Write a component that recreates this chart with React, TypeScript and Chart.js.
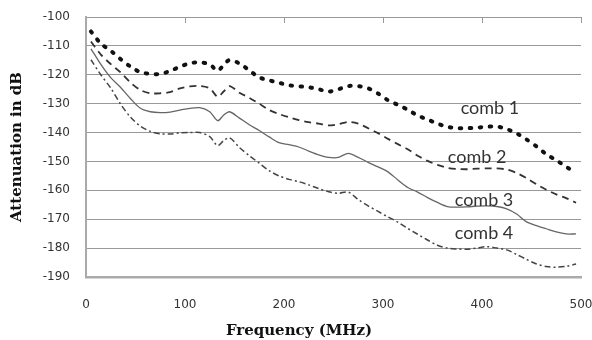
import React, { useEffect, useRef } from "react";
import { Chart, registerables } from "chart.js";

Chart.register(...registerables);

const freqs = [5, 15, 25, 35, 45, 55, 65, 75, 85, 95, 105, 115, 125, 133, 139, 145, 155, 165, 175, 185, 195, 205, 215, 225, 235, 245, 255, 265, 275, 285, 295, 305, 315, 325, 335, 345, 355, 365, 375, 385, 395, 405, 415, 425, 435, 445, 455, 465, 475, 485, 495];

const comb1 = [-105, -109.2, -111.7, -114.6, -117.2, -119.1, -119.7, -119.7, -118.7, -117.2, -116, -115.7, -116.4, -118.6, -116.6, -114.9, -116.1, -118.5, -120.9, -121.9, -122.8, -123.6, -124.0, -124.3, -125, -125.8, -125, -123.9, -123.9, -124.7, -126.5, -128.8, -130.4, -132.1, -134.1, -135.5, -136.9, -138, -138.5, -138.5, -138.3, -138, -137.9, -138.8, -140.3, -142.4, -144.8, -147.5, -149.6, -151.8, -154.2];

const comb2 = [-108.5, -113, -116.3, -119.2, -122.7, -125.3, -126.4, -126.4, -126, -124.7, -124, -123.9, -124.7, -127.6, -125.8, -123.9, -126.2, -128, -130, -132.2, -133.6, -134.7, -135.7, -136.4, -136.9, -137.5, -137.1, -136.3, -136.9, -138.5, -140.2, -142.2, -144, -145.8, -148, -149.8, -151.2, -152.2, -152.6, -152.7, -152.5, -152.4, -152.4, -152.8, -154, -155.8, -157.9, -159.8, -161.4, -162.7, -164.3];

const comb3 = [-111, -116.4, -121, -124.4, -128.3, -131.6, -132.8, -133.1, -132.9, -132.2, -131.6, -131.4, -132.8, -135.9, -134, -132.8, -135, -137.3, -139.3, -141.5, -143.5, -144.2, -145, -146.4, -147.7, -148.6, -148.6, -147.2, -148.6, -150.3, -151.9, -153.6, -156.4, -159, -160.6, -162.5, -164.2, -165.6, -165.8, -165.7, -165.5, -165.4, -165.6, -166.4, -168.2, -170.9, -172.2, -173.3, -174.4, -175.1, -175.1];

const comb4 = [-114.8, -120, -124.6, -130.2, -134.7, -137.8, -139.6, -140.4, -140.5, -140.1, -140, -140, -141.4, -144.5, -142.8, -141.8, -145.2, -148, -150.6, -153.2, -155, -156.2, -157, -158.1, -159.4, -160.5, -161, -160.6, -163.2, -165.4, -167.3, -169.2, -171, -173.2, -175.2, -177.2, -179, -180, -180.3, -180.4, -180, -179.5, -180, -180.6, -182.2, -183.9, -185.5, -186.4, -186.6, -186.3, -185.5];

const seriesNames = ["comb 1", "comb 2", "comb 3", "comb 4"];
const labelFreqs = [408, 395, 402, 402];
const labelValues = [-131.5, -148.5, -163.3, -174.8];

const xTicks = [0, 100, 200, 300, 400, 500];
const xTitle = "Frequency (MHz)";
const yTitle = "Attenuation in dB";

const toPoints = (vals: number[]) => vals.map((v, i) => ({ x: freqs[i], y: v }));

const annotationPlugin = {
  id: "combLabels",
  afterDatasetsDraw(chart: any) {
    const { ctx, scales } = chart;
    ctx.save();
    ctx.font = "18px Lato";
    ctx.fillStyle = "#333";
    ctx.textAlign = "center";
    ctx.textBaseline = "middle";
    seriesNames.forEach((name, i) => {
      ctx.fillText(name, scales.x.getPixelForValue(labelFreqs[i]), scales.y.getPixelForValue(labelValues[i]));
    });
    ctx.restore();
  },
  afterDraw(chart: any) {
    const { ctx, scales, chartArea } = chart;
    ctx.save();
    ctx.strokeStyle = "#999";
    ctx.lineWidth = 1;
    xTicks.forEach((t) => {
      if (t === 0) return;
      const px = Math.round(scales.x.getPixelForValue(t)) + 0.5;
      ctx.beginPath();
      ctx.moveTo(px, chartArea.top);
      ctx.lineTo(px, chartArea.top + 6);
      ctx.stroke();
    });
    ctx.font = "bold 15px 'DejaVu Serif'";
    ctx.fillStyle = "#111";
    ctx.textAlign = "center";
    ctx.textBaseline = "middle";
    ctx.fillText(xTitle, chart.width / 2 + 3, 331);
    ctx.restore();
  },
};

export default function App() {
  const ref = useRef<HTMLCanvasElement>(null);
  useEffect(() => {
    document.body.style.margin = "0";
    const chart = new Chart(ref.current!, {
      type: "line",
      data: {
        datasets: [
          { label: "comb 1", data: toPoints(comb1), borderColor: "#111", borderWidth: 4, borderDash: [1.5, 8.5], borderCapStyle: "round", pointRadius: 0, tension: 0.3, fill: false },
          { label: "comb 2", data: toPoints(comb2), borderColor: "#333", borderWidth: 1.8, borderDash: [7, 5], pointRadius: 0, tension: 0.3, fill: false },
          { label: "comb 3", data: toPoints(comb3), borderColor: "#666", borderWidth: 1.3, pointRadius: 0, tension: 0.3, fill: false },
          { label: "comb 4", data: toPoints(comb4), borderColor: "#444", borderWidth: 1.5, borderDash: [6, 3, 2, 3], pointRadius: 0, tension: 0.3, fill: false },
        ],
      },
      options: {
        responsive: false,
        animation: false,
        layout: { padding: { top: 17, right: 11, left: 0, bottom: 0 } },
        plugins: { legend: { display: false }, tooltip: { enabled: false } },
        scales: {
          x: {
            type: "linear",
            min: 0,
            max: 500,
            afterFit: (s: any) => { s.height = 63; s.paddingLeft = 0; s.paddingRight = 0; },
            afterBuildTicks: (s: any) => { s.ticks = xTicks.map((v) => ({ value: v })); },
            ticks: { padding: 21, color: "#333", font: { family: "DejaVu Sans", size: 12 }, maxRotation: 0 },
            grid: { display: false, drawTicks: false },
            border: { display: true, color: "#aaa", width: 2.5 },
            title: { display: false, text: xTitle },
          },
          y: {
            min: -190,
            max: -100,
            afterFit: (s: any) => { s.width = 86; s.paddingTop = 0; s.paddingBottom = 0; },
            ticks: { stepSize: 10, padding: 16, color: "#333", font: { family: "DejaVu Sans", size: 12 } },
            grid: { color: "#999", lineWidth: 1, drawTicks: false },
            border: { display: true, color: "#aaa", width: 2 },
            title: { display: true, text: yTitle, color: "#111", font: { family: "DejaVu Serif", size: 15, weight: "bold" }, padding: { top: 8, bottom: 0 } },
          },
        },
      },
      plugins: [annotationPlugin],
    } as any);
    return () => chart.destroy();
  }, []);
  return (
    <div style={{ width: 592, height: 340 }}>
      <canvas ref={ref} width={592} height={340} />
    </div>
  );
}
